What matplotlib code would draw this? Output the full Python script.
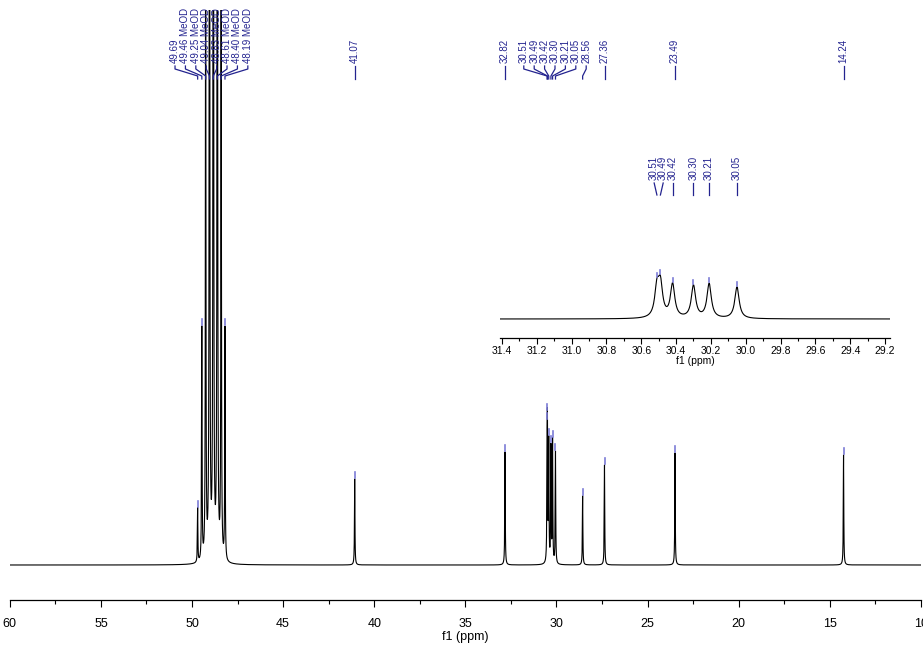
import numpy as np
import matplotlib
matplotlib.use("Agg")
import matplotlib.pyplot as plt
from matplotlib.lines import Line2D
from matplotlib.ticker import MultipleLocator, FormatStrFormatter

plt.rcParams['font.family'] = ['Liberation Sans', 'DejaVu Sans']

# picked peaks: position (ppm), height (main plot units), label
peak_ppm = [49.69, 49.46, 49.25, 49.04, 48.83, 48.61, 48.40, 48.19,
            41.07, 32.82, 30.51, 30.49, 30.42, 30.30, 30.21, 30.05,
            28.56, 27.36, 23.49, 14.24]
peak_height = [54, 232, 696, 1392, 1624, 1392, 696, 232,
               86, 113, 100, 112, 119, 115, 122, 112,
               69, 100, 112, 110]
peak_label = ['49.69', '49.46 MeOD', '49.25 MeOD', '49.04 MeOD', '48.83 MeOD',
              '48.61 MeOD', '48.40 MeOD', '48.19 MeOD',
              '41.07', '32.82', '30.51', '30.49', '30.42', '30.30', '30.21', '30.05',
              '28.56', '27.36', '23.49', '14.24']
inset_ppm = [30.51, 30.49, 30.42, 30.30, 30.21, 30.05]
inset_label = ['30.51', '30.49', '30.42', '30.30', '30.21', '30.05']

linewidth_ppm = 0.015   # lorentzian half width
W, H = 923, 652
LABEL_C = '#23238f'
MARK_C = '#7b7bd6'
AXIS_FONT = ['Liberation Sans Narrow', 'Liberation Sans', 'DejaVu Sans']


def spectrum(x):
    y = np.zeros_like(x)
    for p, h in zip(peak_ppm, peak_height):
        y += h / (1 + ((x - p) / linewidth_ppm) ** 2)
    return y


def spread(xs, gap):
    # push labels apart, keeping each crowded group centred on its peaks
    groups = [[x] for x in xs]
    moved = True
    while moved:
        moved = False
        for i in range(len(groups) - 1):
            a, b = groups[i], groups[i + 1]
            a_end = np.mean(a) + (len(a) - 1) * gap / 2
            b_start = np.mean(b) - (len(b) - 1) * gap / 2
            if b_start - a_end < gap:
                groups[i] = a + b
                del groups[i + 1]
                moved = True
                break
    out = []
    for g in groups:
        c, n = np.mean(g), len(g)
        out += [c + (k - (n - 1) / 2) * gap for k in range(n)]
    return out


def fig_line(fig, xs, ys, color, lw=0.9):
    fig.add_artist(Line2D([x / W for x in xs], [1 - y / H for y in ys],
                          transform=fig.transFigure, color=color, lw=lw))


def to_px(ax, ppm, val):
    dx, dy = ax.transData.transform((ppm, val))
    return dx, H - dy


x = np.linspace(10, 60, 50001)
y = spectrum(x)

fig = plt.figure(figsize=(W / 100, H / 100), dpi=100)

# main spectrum
ax = fig.add_axes([9.8 / W, 52 / H, 911 / W, 590 / H])
ax.plot(x, y, color='black', lw=0.8)
ax.set_xlim(60, 10)
ax.set_ylim(-35, 555)
for s in ['top', 'left', 'right']:
    ax.spines[s].set_visible(False)
ax.spines['bottom'].set_linewidth(0.9)
ax.set_yticks([])
ax.xaxis.set_major_locator(MultipleLocator(5))
ax.xaxis.set_minor_locator(MultipleLocator(2.5))
ax.tick_params(axis='x', which='major', length=5, width=0.8, labelsize=9, pad=8)
ax.tick_params(axis='x', which='minor', length=3, width=0.8)
for t in ax.get_xticklabels():
    t.set_family(AXIS_FONT)
ax.set_xlabel('f1 (ppm)', fontsize=9, family=AXIS_FONT, labelpad=1)
ax.patch.set_alpha(0)

# inset spectrum (zoom on the 30 ppm cluster)
ins_k = 3.55
ax2 = fig.add_axes([500 / W, (H - 338) / H, 390 / W, 76 / H])
ax2.plot(x, y, color='black', lw=0.8)
ax2.set_xlim(31.4115, 29.171)
ax2.set_ylim(-19 * ins_k, 57 * ins_k)
for s in ['top', 'left', 'right']:
    ax2.spines[s].set_visible(False)
ax2.spines['bottom'].set_linewidth(0.9)
ax2.set_yticks([])
ax2.xaxis.set_major_locator(MultipleLocator(0.2))
ax2.xaxis.set_minor_locator(MultipleLocator(0.1))
ax2.tick_params(axis='x', which='major', length=4, width=0.8, labelsize=7.5, pad=2)
ax2.tick_params(axis='x', which='minor', length=2.5, width=0.8)
ax2.xaxis.set_major_formatter(FormatStrFormatter('%.1f'))
ax2.set_xlabel('f1 (ppm)', fontsize=7.5, labelpad=0)
ax2.patch.set_alpha(0)

fig.canvas.draw()

# main peak labels
px = [to_px(ax, p, 0)[0] for p in peak_ppm]
lx = spread(px, 10.4)
for p, xp, xl, lab in zip(peak_ppm, px, lx, peak_label):
    fig.text(xl / W, 1 - 63 / H, lab, rotation=90, ha='center', va='bottom',
             fontsize=7, color=LABEL_C)
    if abs(xl - xp) < 0.5:
        fig_line(fig, [xl, xl], [66, 79], LABEL_C)
    else:
        fig_line(fig, [xl, xl, xp, xp], [66, 69, 76, 79], LABEL_C)
    top = to_px(ax, p, spectrum(np.array([p]))[0])[1]
    if top > 12:
        fig_line(fig, [xp, xp], [top - 1, top - 7], MARK_C, lw=1.2)

# inset peak labels
ipx = [to_px(ax2, p, 0)[0] for p in inset_ppm]
ilx = spread(ipx, 9)
for p, xp, xl, lab in zip(inset_ppm, ipx, ilx, inset_label):
    fig.text(xl / W, 1 - 180 / H, lab, rotation=90, ha='center', va='bottom',
             fontsize=7, color=LABEL_C)
    fig_line(fig, [xl, xp], [183, 195], LABEL_C)
    top = to_px(ax2, p, spectrum(np.array([p]))[0])[1]
    fig_line(fig, [xp, xp], [top - 1, top - 5], MARK_C, lw=1.2)

fig.savefig('out.png', dpi=100)
